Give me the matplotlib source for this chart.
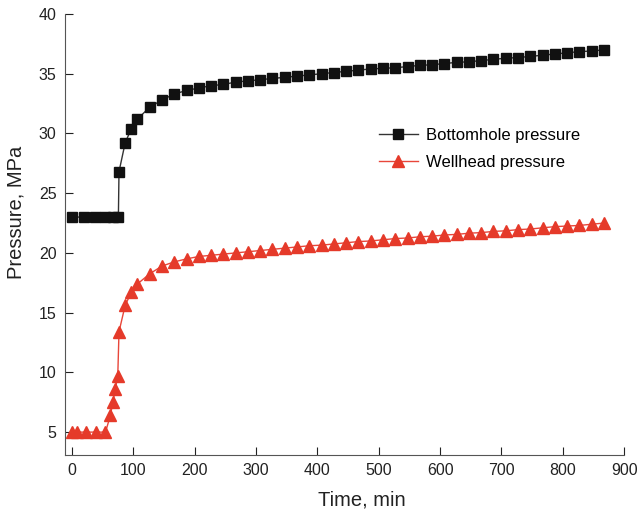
import numpy as np
import matplotlib
matplotlib.use("Agg")
import matplotlib.pyplot as plt

plt.rcParams['font.family'] = ['Liberation Sans', 'DejaVu Sans']

# bottomhole pressure, MPa
t_bh = [0, 20, 38, 55, 68, 76, 77, 87, 97, 107, 127, 147, 167, 187, 207, 227, 247, 267,
        287, 307, 327, 347, 367, 387, 407, 427, 447, 467, 487, 507, 527, 547, 567,
        587, 607, 627, 647, 667, 687, 707, 727, 747, 767, 787, 807, 827, 847, 867]
p_bh = [23.0, 23.0, 23.0, 23.0, 23.0, 23.0, 26.8, 29.2, 30.4, 31.2, 32.2, 32.8, 33.3,
        33.6, 33.8, 34.0, 34.1, 34.3, 34.4, 34.5, 34.6, 34.7, 34.8, 34.9, 35.0, 35.1,
        35.2, 35.3, 35.4, 35.45, 35.5, 35.6, 35.7, 35.75, 35.85, 35.95, 36.0, 36.1,
        36.2, 36.3, 36.35, 36.45, 36.55, 36.65, 36.75, 36.85, 36.9, 37.0]

# wellhead pressure, MPa
t_wh = [0, 8, 23, 39, 55, 63, 67, 71, 75, 77, 87, 97, 107, 127, 147, 167, 187, 207, 227,
        247, 267, 287, 307, 327, 347, 367, 387, 407, 427, 447, 467, 487, 507, 527, 547,
        567, 587, 607, 627, 647, 667, 687, 707, 727, 747, 767, 787, 807, 827, 847, 867]
p_wh = [5.0, 5.0, 5.0, 5.0, 5.0, 6.4, 7.5, 8.6, 9.7, 13.4, 15.6, 16.7, 17.4, 18.25,
        18.9, 19.25, 19.5, 19.7, 19.8, 19.9, 20.0, 20.1, 20.2, 20.3, 20.4, 20.5, 20.6,
        20.65, 20.75, 20.85, 20.95, 21.0, 21.1, 21.2, 21.25, 21.35, 21.4, 21.5, 21.55,
        21.65, 21.7, 21.8, 21.85, 21.95, 22.0, 22.1, 22.2, 22.25, 22.3, 22.4, 22.5]

fig = plt.figure(figsize=(6.37, 5.18), dpi=100)
ax = fig.add_axes([0.102, 0.122, 0.878, 0.851])

ax.plot(t_bh, p_bh, color='#333333', lw=1.0, marker='s', ms=7,
        mfc='#111111', mec='#111111', label='Bottomhole pressure')
ax.plot(t_wh, p_wh, color='#e8463a', lw=1.0, marker='^', ms=8.5,
        mfc='#e53a2a', mec='#e53a2a', label='Wellhead pressure')

ax.set_xlim(-11, 900)
ax.set_ylim(3.1, 40)
ax.set_xticks(np.arange(0, 901, 100))
ax.set_yticks(np.arange(5, 41, 5))
ax.tick_params(direction='in', length=6, width=0.8, labelsize=11.5,
               colors='#222222', pad=6)
for s in ['top', 'right']:
    ax.spines[s].set_visible(False)
for s in ['left', 'bottom']:
    ax.spines[s].set_color('#555555')

ax.set_xlabel('Time, min', fontsize=14.5, color='#222222')
ax.set_ylabel('Pressure, MPa', fontsize=14.5, color='#222222')
ax.xaxis.set_label_coords(0.53, -0.08)
ax.yaxis.set_label_coords(-0.07, 0.55)

ax.legend(loc='upper left', bbox_to_anchor=(0.535, 0.775), frameon=False,
          fontsize=12, handlelength=2.3, handletextpad=0.5, labelspacing=0.7)

fig.savefig('out.png', dpi=100)
